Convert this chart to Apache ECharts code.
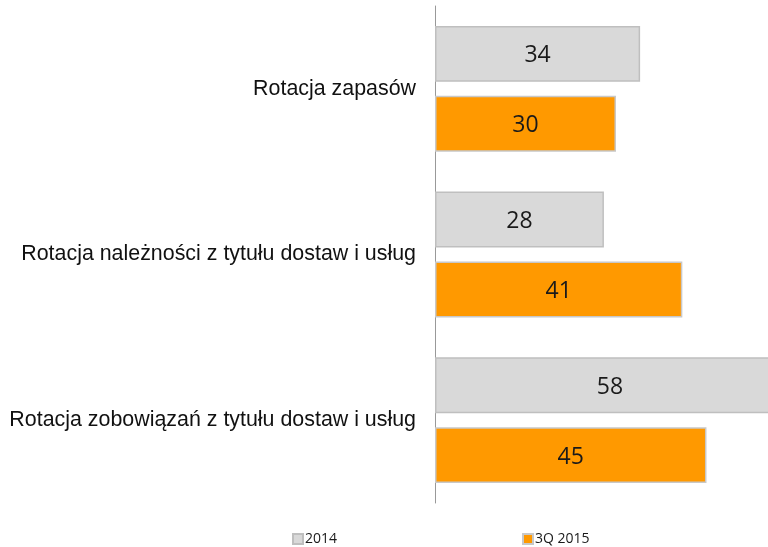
<!DOCTYPE html>
<html>
<head>
<meta charset="utf-8">
<script src="https://cdn.jsdelivr.net/npm/echarts@6/dist/echarts.min.js"></script>
<style>html,body{margin:0;padding:0;background:#fff}#c{width:768px;height:547px}</style>
</head>
<body>
<div id="c"></div>
<script>
var categories = ["Rotacja zapasów", "Rotacja należności z tytułu dostaw i usług", "Rotacja zobowiązań z tytułu dostaw i usług"];
var seriesNames = ["2014", "3Q 2015"];
var values2014 = [34, 28, 58];
var values3Q2015 = [30, 41, 45];

var chart = echarts.init(document.getElementById('c'), null, {renderer: 'canvas'});
var labelStyle = {show: true, position: 'inside', color: '#1a1a1a', fontSize: 23, fontFamily: 'Open Sans', offset: [0, 2]};
var legendText = {fontSize: 14, fontFamily: 'Open Sans', color: '#1a1a1a', padding: [0, 0, 0, -3]};
chart.setOption({
  animation: false,
  grid: {left: 435, right: 0, top: 6, bottom: 44, containLabel: false},
  legend: [
    {data: [{name: seriesNames[0], icon: 'rect'}], left: 292, top: 532, padding: 0, itemWidth: 10, itemHeight: 10, textStyle: legendText},
    {data: [{name: seriesNames[1], icon: 'rect'}], left: 522, top: 532, padding: 0, itemWidth: 10, itemHeight: 10, textStyle: legendText}
  ],
  xAxis: {type: 'value', min: 0, max: 55.2, show: false, splitLine: {show: false}},
  yAxis: {
    type: 'category', data: categories, inverse: true,
    axisLine: {show: true, lineStyle: {color: '#999999', width: 1}},
    axisTick: {show: false},
    axisLabel: {margin: 19, fontSize: 21.4, fontFamily: 'Liberation Sans', color: '#111'}
  },
  series: [
    {name: seriesNames[0], type: 'bar', data: values2014, barGap: '25%', barCategoryGap: '24%', clip: false,
     itemStyle: {color: '#d9d9d9', borderColor: '#bfbfbf', borderWidth: 1.5}, label: labelStyle},
    {name: seriesNames[1], type: 'bar', data: values3Q2015, barGap: '25%', barCategoryGap: '24%', clip: false,
     itemStyle: {color: '#ff9900', borderColor: '#c8c8c8', borderWidth: 1.5}, label: labelStyle}
  ]
});
</script>
</body>
</html>
